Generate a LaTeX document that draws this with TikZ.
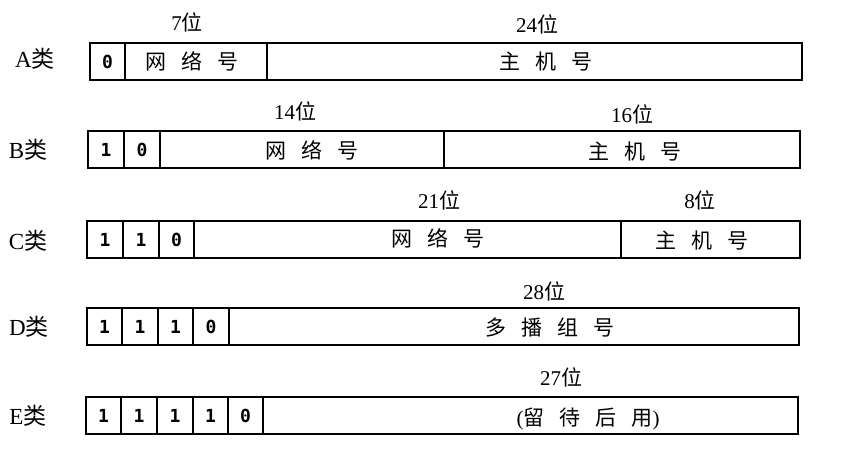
\documentclass[tikz,border=0pt]{standalone}
\usepackage{fontspec}
\setmainfont{Liberation Serif}
\newfontfamily\cjk{Noto Sans CJK SC}
\newfontfamily\bitfont{DejaVu Sans Mono}
\newcommand\zh[1]{{\cjk #1}}
\newcommand\gapzh{\hspace{15pt}}
\begin{document}
\begin{tikzpicture}[x=1pt,y=-1pt,
  cell/.style={draw, line width=1.3pt, anchor=north west, minimum height=37pt, inner sep=0pt, outer sep=0pt},
  bit/.style={font=\bitfont\bfseries\fontsize{18}{18}\selectfont},
  fld/.style={font=\cjk\fontsize{21}{21}\selectfont, inner sep=0pt},
  bits/.style={font=\fontsize{21}{21}\selectfont, inner sep=0pt},
  cls/.style={font=\fontsize{23}{23}\selectfont, inner sep=0pt}]
\useasboundingbox (0,0) rectangle (844,456);
% ---- A class
\node[cls] (Al) at (35,59) {A\zh{类}};
\node[cell,bit,minimum width=35pt] (A1) at (90,43) {0};
\node[cell,minimum width=142pt] (A2) at (125,43) {};
\node[cell,minimum width=535pt] (A3) at (267,43) {};
\node[fld] (A2t) at (192,61) {网\gapzh 络\gapzh 号};
\node[fld] (A3t) at (546,62) {主\gapzh 机\gapzh 号};
\node[bits] (A2w) at (187,22) {7\zh{位}};
\node[bits] (A3w) at (537,24) {24\zh{位}};
% ---- B class
\node[cls] (Bl) at (28,150) {B\zh{类}};
\node[cell,bit,minimum width=36pt] (B1) at (88,131) {1};
\node[cell,bit,minimum width=36pt] (B2) at (124,131) {0};
\node[cell,minimum width=284pt] (B3) at (160,131) {};
\node[cell,minimum width=356pt] (B4) at (444,131) {};
\node[fld] (B3t) at (312,150) {网\gapzh 络\gapzh 号};
\node[fld] (B4t) at (635,152) {主\gapzh 机\gapzh 号};
\node[bits] (B3w) at (295,111) {14\zh{位}};
\node[bits] (B4w) at (632,114) {16\zh{位}};
% ---- C class
\node[cls] (Cl) at (28,241) {C\zh{类}};
\node[cell,bit,minimum width=36pt] (C1) at (87,221) {1};
\node[cell,bit,minimum width=36pt] (C2) at (123,221) {1};
\node[cell,bit,minimum width=35pt] (C3) at (159,221) {0};
\node[cell,minimum width=427pt] (C4) at (194,221) {};
\node[cell,minimum width=179pt] (C5) at (621,221) {};
\node[fld] (C4t) at (438,238) {网\gapzh 络\gapzh 号};
\node[fld] (C5t) at (702,241) {主\gapzh 机\gapzh 号};
\node[bits] (C4w) at (439,200) {21\zh{位}};
\node[bits] (C5w) at (700,200) {8\zh{位}};
% ---- D class
\node[cls] (Dl) at (29,327) {D\zh{类}};
\node[cell,bit,minimum width=35pt] (D1) at (87,308) {1};
\node[cell,bit,minimum width=36pt] (D2) at (122,308) {1};
\node[cell,bit,minimum width=35pt] (D3) at (158,308) {1};
\node[cell,bit,minimum width=36pt] (D4) at (193,308) {0};
\node[cell,minimum width=570pt] (D5) at (229,308) {};
\node[fld] (D5t) at (550,328) {多\gapzh 播\gapzh 组\gapzh 号};
\node[bits] (D5w) at (544,291) {28\zh{位}};
% ---- E class
\node[cls] (El) at (28,416) {E\zh{类}};
\node[cell,bit,minimum width=35pt] (E1) at (86,397) {1};
\node[cell,bit,minimum width=36pt] (E2) at (121,397) {1};
\node[cell,bit,minimum width=36pt] (E3) at (157,397) {1};
\node[cell,bit,minimum width=35pt] (E4) at (193,397) {1};
\node[cell,bit,minimum width=35pt] (E5) at (228,397) {0};
\node[cell,minimum width=535pt] (E6) at (263,397) {};
\node[fld] (E6t) at (588,419) {\fontspec{Liberation Serif}(\zh{留\gapzh 待\gapzh 后\gapzh 用})};
\node[bits] (E6w) at (561,377) {27\zh{位}};
\end{tikzpicture}
\end{document}
